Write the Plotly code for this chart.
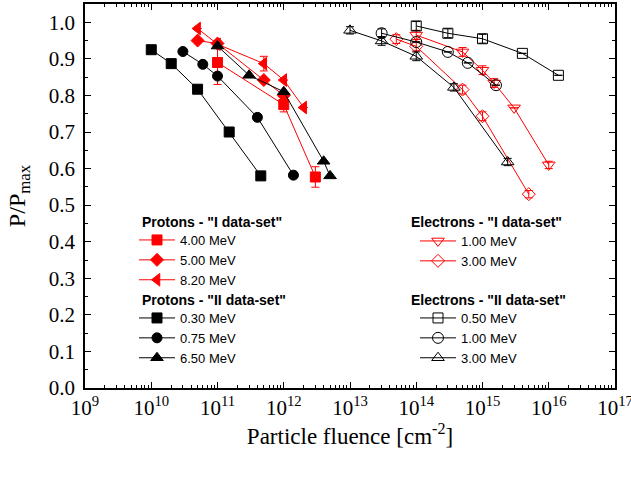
import plotly.graph_objects as go

# ---- data (fluence in cm^-2, normalized power P/Pmax) ----
# Protons - "I data-set"
p400_x = [1e11, 1e12, 3e12]
p400_y = [0.89, 0.775, 0.577]
p400_err = [0.06, 0.02, 0.028]
p500_x = [5e10, 1e11, 5e11, 1e12]
p500_y = [0.95, 0.942, 0.842, 0.80]
p820_x = [5e10, 1e11, 5e11, 1e12, 2e12]
p820_y = [0.983, 0.94, 0.887, 0.842, 0.767]
p820_err = [0, 0, 0.02, 0, 0]
# Protons - "II data-set"
p030_x = [1e10, 2e10, 5e10, 1.5e11, 4.5e11]
p030_y = [0.925, 0.887, 0.817, 0.70, 0.58]
p075_x = [3e10, 6e10, 1e11, 4e11, 1.4e12]
p075_y = [0.92, 0.885, 0.853, 0.74, 0.582]
p650_x = [1e11, 3e11, 1e12, 4e12, 5e12]
p650_y = [0.935, 0.855, 0.81, 0.62, 0.58]
# Electrons - "I data-set"
e100_x = [1e14, 5e14, 1e15, 1.5e15, 3e15, 1e16]
e100_y = [0.965, 0.919, 0.869, 0.834, 0.766, 0.61]
e100_err = [0.012, 0.012, 0.012, 0.012, 0, 0.01]
e300_x = [5e13, 1e14, 5e14, 1e15, 5e15]
e300_y = [0.954, 0.934, 0.816, 0.743, 0.53]
e300_err = [0.012, 0.012, 0.012, 0.012, 0.01]
# Electrons - "II data-set"
e050_x = [1e14, 3e14, 1e15, 4e15, 1.4e16]
e050_y = [0.99, 0.97, 0.955, 0.915, 0.855]
e050_err = [0.012, 0.012, 0.012, 0, 0]
e100b_x = [3e13, 1e14, 3e14, 6e14, 1.6e15]
e100b_y = [0.97, 0.946, 0.919, 0.889, 0.828]
e100b_err = [0.012, 0, 0, 0, 0]
e300b_x = [1e13, 3e13, 1e14, 3.7e14, 2.4e15]
e300b_y = [0.978, 0.949, 0.907, 0.822, 0.618]
e300b_err = [0.01, 0.012, 0.012, 0.01, 0.01]

x_tick_exp = list(range(9, 18))
y_ticks = [round(0.1 * i, 1) for i in range(11)]

RED = "#ff0000"
BLK = "#000000"

fig = go.Figure()


def add(x, y, name, color, symbol, size, legend, err=None):
    kw = {}
    if err is not None:
        kw["error_y"] = dict(type="data", array=err, visible=True, color=color,
                             thickness=1, width=4)
    fig.add_trace(go.Scatter(
        x=x, y=y, name=name, mode="lines+markers", legend=legend,
        line=dict(color=color, width=1),
        marker=dict(symbol=symbol, size=size, color=color,
                    line=dict(color=color, width=1)),
        **kw))


add(p400_x, p400_y, "4.00 MeV", RED, "square", 10, "legend", p400_err)
add(p500_x, p500_y, "5.00 MeV", RED, "diamond", 10, "legend")
add(p820_x, p820_y, "8.20 MeV", RED, "triangle-left", 11, "legend", p820_err)
add(p030_x, p030_y, "0.30 MeV", BLK, "square", 10, "legend2")
add(p075_x, p075_y, "0.75 MeV", BLK, "circle", 10, "legend2")
add(p650_x, p650_y, "6.50 MeV", BLK, "triangle-up", 11, "legend2")
add(e100_x, e100_y, "1.00 MeV", RED, "triangle-down-open", 11, "legend3", e100_err)
add(e300_x, e300_y, "3.00 MeV", RED, "diamond-open", 10, "legend3", e300_err)
add(e050_x, e050_y, "0.50 MeV", BLK, "square-open", 10, "legend4", e050_err)
add(e100b_x, e100b_y, "1.00 MeV", BLK, "circle-open", 11, "legend4", e100b_err)
add(e300b_x, e300b_y, "3.00 MeV", BLK, "triangle-up-open", 11, "legend4", e300b_err)

SERIF = "Liberation Serif"
SANS = "Liberation Sans"

minor_x = [m * 10 ** e for e in range(9, 17) for m in range(2, 10)]

fig.update_xaxes(
    type="log", range=[8.9995, 17.0005],
    tickmode="array", tickvals=[10 ** e for e in x_tick_exp],
    ticktext=["10<sup>%d</sup>" % e for e in x_tick_exp],
    ticks="inside", ticklen=6, tickwidth=1.3, tickcolor="black",
    minor=dict(tickmode="array", tickvals=minor_x, ticks="inside", ticklen=3,
               tickwidth=1, tickcolor="black", showgrid=False),
    showline=True, linecolor="black", linewidth=1.5, mirror="ticks",
    showgrid=False, zeroline=False, automargin=False,
    ticklabeloverflow="allow",
    tickfont=dict(family=SERIF, size=21, color="black"),
    title=dict(text="Particle fluence [cm<sup>-2</sup>]",
               font=dict(family=SERIF, size=23, color="black"), standoff=4),
)
fig.update_yaxes(
    range=[0, 1.05], tickmode="array", tickvals=y_ticks,
    ticktext=["%.1f" % v for v in y_ticks],
    ticks="inside", ticklen=6, tickwidth=1.3, tickcolor="black",
    minor=dict(dtick=0.05, ticks="inside", ticklen=3, tickwidth=1,
               tickcolor="black", showgrid=False),
    showline=True, linecolor="black", linewidth=1.5, mirror="ticks",
    showgrid=False, zeroline=False, automargin=False,
    ticklabeloverflow="allow",
    tickfont=dict(family=SERIF, size=21, color="black"),
    ticklabelstandoff=4,
    title=dict(text="P/P<sub>max</sub>",
               font=dict(family=SERIF, size=24, color="black"), standoff=16),
)

L = 85
W = 530
B = 388
H = 384


def px(xp):
    return (xp - L) / W


def py(yp):
    return (B - yp) / H


leg_common = dict(bgcolor="rgba(0,0,0,0)", borderwidth=0,
                  font=dict(family=SANS, size=13, color="black"),
                  xanchor="left", yanchor="top", tracegroupgap=0,
                  itemwidth=36)

fig.update_layout(
    width=631, height=479,
    margin=dict(l=L, r=631 - L - W, t=4, b=479 - 4 - H),
    plot_bgcolor="white", paper_bgcolor="white",
    showlegend=True,
    legend=dict(x=px(134), y=py(225), **leg_common),
    legend2=dict(x=px(134), y=py(303), **leg_common),
    legend3=dict(x=px(415), y=py(226), **leg_common),
    legend4=dict(x=px(415), y=py(303), **leg_common),
)

titles = [
    ('Protons - "I data-set"', 140, 222),
    ('Protons - "II data-set"', 140, 300),
    ('Electrons - "I data-set"', 409, 222),
    ('Electrons - "II data-set"', 409, 300),
]
for t, xp, yp in titles:
    fig.add_annotation(text="<b>%s</b>" % t, xref="paper", yref="paper",
                       x=px(xp), y=py(yp), xanchor="left", yanchor="middle",
                       showarrow=False,
                       font=dict(family=SANS, size=14, color="black"))

fig.write_html("out.html",
               config={"displayModeBar": False},
               post_script="document.body.style.margin='0px';"
                           "document.body.style.overflow='hidden';")
